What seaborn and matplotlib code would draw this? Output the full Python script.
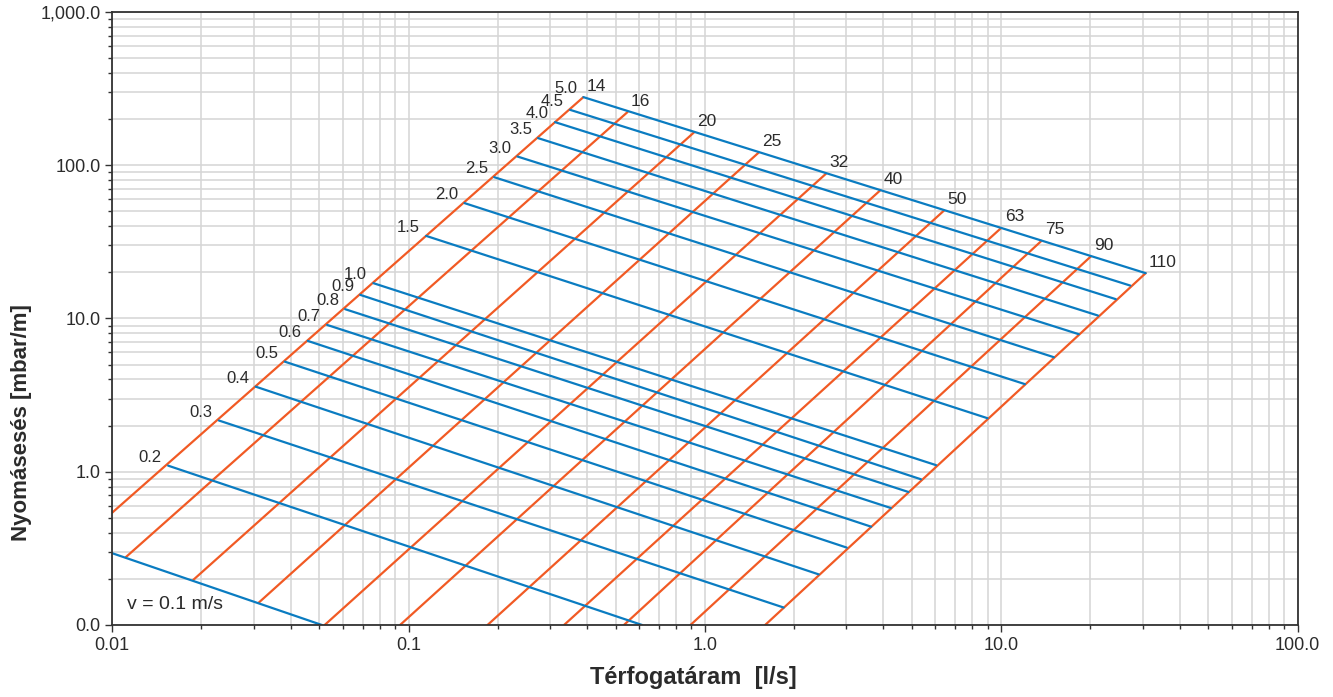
import numpy as np
import pandas as pd
import matplotlib
matplotlib.use("Agg")
import matplotlib.pyplot as plt
import matplotlib.ticker as mticker
import seaborn as sns


# pipe size lines (orange): visible end points
diam_labels = ["14", "16", "20", "25", "32", "40", "50", "63", "75", "90", "110"]
diam_q_bot = [0.01, 0.0111, 0.01875, 0.0312, 0.0521, 0.0936, 0.1847, 0.3347, 0.533, 0.894, 1.597]
diam_dp_bot = [0.541, 0.2766, 0.1966, 0.1398, 0.1, 0.1, 0.1, 0.1, 0.1, 0.1, 0.1]
diam_q_top = [0.389, 0.548, 0.918, 1.519, 2.56, 3.90, 6.41, 10.0, 13.67, 20.06, 30.72]
diam_dp_top = [278.3, 222.2, 163.5, 121.0, 87.9, 68.4, 50.6, 39.0, 32.1, 25.4, 19.76]

# flow velocity lines (blue)
vel_labels = ["0.1", "0.2", "0.3", "0.4", "0.5", "0.6", "0.7", "0.8", "0.9", "1.0",
              "1.5", "2.0", "2.5", "3.0", "3.5", "4.0", "4.5", "5.0"]
vel_q_left = [0.01, 0.01544, 0.0229, 0.0305, 0.0382, 0.0457, 0.0531, 0.0611, 0.0687, 0.0761,
              0.1146, 0.1545, 0.1945, 0.2331, 0.2736, 0.3121, 0.3508, 0.389]
vel_dp_left = [0.294, 1.096, 2.16, 3.59, 5.23, 7.14, 9.08, 11.50, 14.26, 17.0,
               34.6, 56.6, 83.6, 114.0, 150.3, 191.1, 229.9, 278.3]
vel_q_right = [0.0510, 0.614, 1.844, 2.42, 3.01, 3.64, 4.24, 4.86, 5.36, 6.03,
               8.99, 12.02, 15.05, 18.27, 21.22, 24.36, 27.26, 30.72]
vel_dp_right = [0.1, 0.1, 0.130, 0.214, 0.320, 0.438, 0.580, 0.738, 0.893, 1.104,
                2.235, 3.73, 5.59, 7.90, 10.45, 13.37, 16.40, 19.76]

x_ticks = [0.01, 0.1, 1, 10, 100]
x_ticklabels = ["0.01", "0.1", "1.0", "10.0", "100.0"]
y_ticks = [0.1, 1, 10, 100, 1000]
y_ticklabels = ["0.0", "1.0", "10.0", "100.0", "1,000.0"]

BLUE = "#0a7cc1"
ORANGE = "#f15a24"
TXT = "#2b2b2b"

sns.set_theme(style="white")
plt.rcParams["font.family"] = ["Liberation Sans", "DejaVu Sans"]

# long-form tables, one row per line end
diam_df = pd.DataFrame({
    "Q": diam_q_bot + diam_q_top,
    "dp": diam_dp_bot + diam_dp_top,
    "line": diam_labels + diam_labels,
})
vel_df = pd.DataFrame({
    "Q": vel_q_left + vel_q_right,
    "dp": vel_dp_left + vel_dp_right,
    "line": vel_labels + vel_labels,
})

fig = plt.figure(figsize=(13.33, 6.97), dpi=100)
ax = fig.add_axes([0.0842, 0.1033, 0.8892, 0.8795])

sns.lineplot(data=diam_df, x="Q", y="dp", units="line", estimator=None, sort=False,
             color=ORANGE, linewidth=1.6, ax=ax)
sns.lineplot(data=vel_df, x="Q", y="dp", units="line", estimator=None, sort=False,
             color=BLUE, linewidth=1.6, ax=ax)

ax.set_xscale("log")
ax.set_yscale("log")
ax.set_xlim(0.01, 100)
ax.set_ylim(0.1, 1000)

ax.xaxis.set_major_locator(mticker.FixedLocator(x_ticks))
ax.xaxis.set_major_formatter(mticker.FixedFormatter(x_ticklabels))
ax.yaxis.set_major_locator(mticker.FixedLocator(y_ticks))
ax.yaxis.set_major_formatter(mticker.FixedFormatter(y_ticklabels))
for axis in (ax.xaxis, ax.yaxis):
    axis.set_minor_locator(mticker.LogLocator(base=10, subs=np.arange(2, 10), numticks=20))
    axis.set_minor_formatter(mticker.NullFormatter())

ax.grid(which="both", color="#d5d5d5", linewidth=1.1)
ax.set_axisbelow(True)
ax.tick_params(which="major", direction="out", length=5, width=1, color="#333333",
               labelsize=13, labelcolor=TXT, bottom=True, left=True)
ax.tick_params(which="minor", direction="out", length=3, width=1, color="#333333",
               bottom=True, left=True)
for side in ax.spines.values():
    side.set_color("#333333")
    side.set_linewidth(1.3)

# labels on the lines
for lab, q, dp in zip(diam_labels, diam_q_top, diam_dp_top):
    ax.annotate(lab, (q, dp), xytext=(2.5, 2.5), textcoords="offset points",
                ha="left", va="bottom", fontsize=12.5, color=TXT)
for lab, q, dp in zip(vel_labels[1:], vel_q_left[1:], vel_dp_left[1:]):
    ax.annotate(lab, (q, dp), xytext=(-4.5, 0.5), textcoords="offset points",
                ha="right", va="bottom", fontsize=12, color=TXT)
ax.text(0.0124, 0.034, "v = 0.1 m/s", transform=ax.transAxes, ha="left", va="center",
        fontsize=14, color=TXT)

ax.set_xlabel("Térfogatáram  [l/s]", fontsize=17, fontweight="bold", color=TXT)
ax.set_ylabel("Nyomásesés [mbar/m]", fontsize=16, fontweight="bold", color=TXT)
ax.xaxis.set_label_coords(0.49, -0.067)
ax.yaxis.set_label_coords(-0.068, 0.33)

fig.savefig("out.png", dpi=100)
